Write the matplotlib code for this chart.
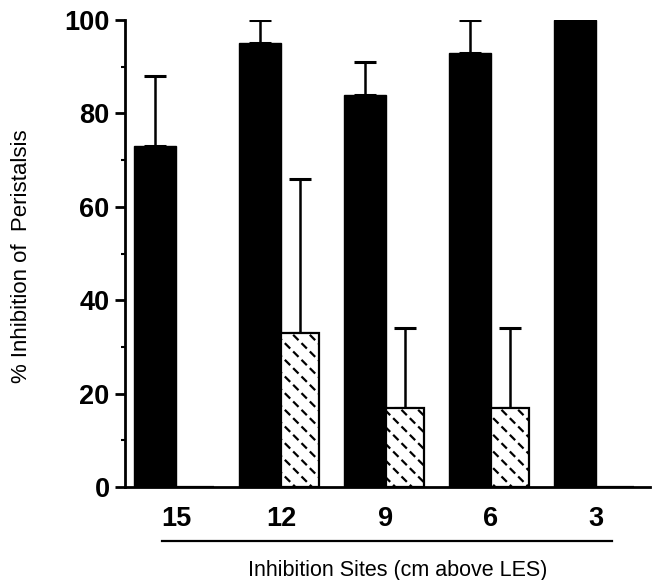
import warnings
import numpy as np
import matplotlib
matplotlib.use("Agg")
import matplotlib.pyplot as plt
import matplotlib.hatch as mhatch
from matplotlib.path import Path

warnings.filterwarnings("ignore")

# ---- data ----
sites = ["15", "12", "9", "6", "3"]
black_vals = [73, 95, 84, 93, 100]
black_err = [15, 5, 7, 7, 0]
hatched_vals = [0, 33, 17, 17, 0]
hatched_err = [0, 33, 17, 17, 0]
y_ticks = [0, 20, 40, 60, 80, 100]
y_label = "% Inhibition of  Peristalsis"
x_label = "Inhibition Sites (cm above LES)"


# ---- custom dash hatch: short "\" dashes on a staggered grid ----
class DashHatch(mhatch.HatchPatternBase):
    def __init__(self, hatch, density):
        self.on = "D" in hatch
        self.pts = []
        if self.on:
            for j in range(12):
                for i in range(6):
                    cx = (i + 0.5 * (j % 2) + 0.25) / 6.0
                    cy = (j + 0.5) / 12.0
                    self.pts.append((cx, cy))
        self.num_vertices = len(self.pts) * 2

    def set_vertices_and_codes(self, vertices, codes):
        d = 0.019
        k = 0
        for cx, cy in self.pts:
            vertices[k] = (cx - d, cy + d)
            vertices[k + 1] = (cx + d, cy - d)
            codes[k] = Path.MOVETO
            codes[k + 1] = Path.LINETO
            k += 2


if DashHatch not in mhatch._hatch_types:
    mhatch._hatch_types.append(DashHatch)

plt.rcParams["font.family"] = ["Liberation Sans", "DejaVu Sans"]
plt.rcParams["hatch.linewidth"] = 1.6

fig = plt.figure(figsize=(6.54, 5.8), dpi=100)
ax = fig.add_axes([125 / 654, 93 / 580, 525 / 654, 467 / 580])

x = np.arange(len(sites))
w = 0.4
bx = x - w / 2
hx = x + w / 2 - 0.02

ax.bar(bx, black_vals, width=w, color="black", edgecolor="black", linewidth=1, zorder=2)
ax.bar(hx, hatched_vals, width=0.37, color="white", edgecolor="black",
       linewidth=1.6, hatch="D", zorder=2)

# error bars (upper only, where present)
for xs, vals, errs in [(bx, black_vals, black_err), (hx, hatched_vals, hatched_err)]:
    idx = [i for i, e in enumerate(errs) if e > 0]
    ax.errorbar([xs[i] for i in idx], [vals[i] for i in idx],
                yerr=[[0] * len(idx), [errs[i] for i in idx]],
                fmt="none", ecolor="black", elinewidth=1.8, capsize=8,
                capthick=2.2, zorder=1)

ax.set_xlim(-0.486, 4.514)
ax.set_ylim(0, 100)

for s in ["top", "right"]:
    ax.spines[s].set_visible(False)
ax.spines["left"].set_linewidth(2)
ax.spines["bottom"].set_linewidth(2)

ax.set_yticks(y_ticks)
ax.set_yticklabels([str(t) for t in y_ticks], fontsize=19.5, fontweight="bold")
ax.set_yticks([10, 30, 50, 70, 90], minor=True)
ax.tick_params(axis="y", which="major", direction="out", length=7, width=2, pad=4)
ax.tick_params(axis="y", which="minor", direction="out", length=3, width=1.5)

ax.set_xticks(x)
ax.set_xticklabels(sites, fontsize=19.5, fontweight="bold")
ax.tick_params(axis="x", length=0, pad=14)

ax.set_ylabel(y_label, fontsize=16)
ax.yaxis.set_label_coords(-0.178, 0.495)

ax.plot([0.0705, 0.928], [-0.1156, -0.1156], transform=ax.transAxes,
        color="black", lw=1.6, clip_on=False)
ax.text(0.519, -0.1906, x_label, transform=ax.transAxes, ha="center",
        va="baseline", fontsize=15.5)

fig.savefig("out.png", dpi=100)
